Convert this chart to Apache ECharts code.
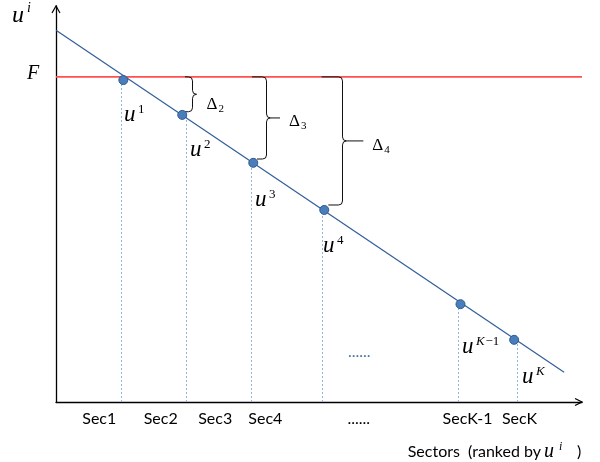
<!DOCTYPE html>
<html><head><meta charset="utf-8">
<script src="https://cdn.jsdelivr.net/npm/echarts@6/dist/echarts.min.js"></script>
<style>html,body{margin:0;padding:0;background:#fff}#c{width:600px;height:462px}</style>
</head><body><div id="c"></div>
<script>
// ---- data (abstract units: x = sector rank position 0..100, u = utility 0..100)
const sectorTickLabels = ['Sec1', 'Sec2', 'Sec3', 'Sec4', '......', 'SecK-1', 'SecK'];
const sectorTickX = [8.23, 19.91, 30.27, 39.79, 57.57, 78.25, 88.12];
const pointNames = ['1', '2', '3', '4', 'K\u22121', 'K'];
const pointX = [12.8, 24.0, 37.5, 51.0, 76.9, 87.1];
const pointU = [81.3, 72.5, 60.4, 48.5, 24.7, 15.7];
const dropX = [12.3, 24.7, 37.0, 50.5, 76.5, 87.7];
const trendX = [0, 96.6];
const trendU = [93.9, 7.5];
const F = 82.1;
const braceNames = ['2', '3', '4'];
const braceX = [25.80, 39.92, 54.31];
const braceBottomU = [73.3, 61.36, 49.75];
const braceTipX = [26.75, 42.59, 58.43];
const braceHookTopX = [24.52, 37.26, 50.51];
const braceHookBottomX = [24.52, 38.21, 51.77];
const deltaLabelX = [28.6, 44.3, 60.1];
const deltaLabelU = [73.7, 69.5, 63.4];
const uLabelX = [12.93, 25.48, 37.83, 50.76, 77.19, 88.59];
const uLabelU = [70.45, 61.62, 48.99, 37.37, 11.87, 4.29];
const ellipsisX = 55.5, ellipsisU = 10.98;

// ---- rendering
const SERIF = '"Liberation Serif","DejaVu Serif",serif';
const SANS = 'Lato,"Open Sans",sans-serif';
function mid(baseline, size, fam) { return baseline - size * (fam === SANS ? 0.387 : 0.3375); }
function T(x, baseline, text, size, fam, opts) {
  opts = opts || {};
  return { type: 'text', x: x, y: mid(baseline, size, fam), silent: true,
    style: { text: text, font: (opts.italic ? 'italic ' : '') + size + 'px ' + fam,
      fill: opts.color || '#000', align: opts.align || 'left', verticalAlign: 'middle' } };
}
function supText(x, baseline, s, size) {
  if (s.charAt(0) === 'K') {
    const out = [T(x, baseline, 'K', size, SERIF, { italic: true })];
    if (s.length > 1) out.push(T(x + 9.5, baseline, s.slice(1), size, SERIF));
    return out;
  }
  return [T(x, baseline, s, size, SERIF)];
}

const chart = echarts.init(document.getElementById('c'), null, { renderer: 'canvas' });
const axisCommon = {
  type: 'value', min: 0, max: 100,
  axisLine: { show: true, lineStyle: { color: '#000', width: 1.3 } },
  axisTick: { show: false }, axisLabel: { show: false }, splitLine: { show: false }
};
chart.setOption({
  animation: false,
  grid: { left: 56, right: 18, top: 6, bottom: 60, containLabel: false },
  xAxis: Object.assign({}, axisCommon),
  yAxis: Object.assign({}, axisCommon),
  graphic: [
    { type: 'text', x: 12, y: mid(24, 24, SERIF), style: { text: 'u', font: 'italic 24px ' + SERIF, fill: '#000', verticalAlign: 'middle' } },
    { type: 'text', x: 27, y: mid(13, 14, SERIF), style: { text: 'i', font: 'italic 14px ' + SERIF, fill: '#000', verticalAlign: 'middle' } },
    { type: 'text', x: 541, y: mid(458, 16, SANS), style: { text: 'Sectors  (ranked by', font: '16px ' + SANS, fill: '#000', align: 'right', verticalAlign: 'middle' } },
    { type: 'text', x: 544, y: mid(458, 20, SERIF), style: { text: 'u', font: 'italic 20px ' + SERIF, fill: '#000', verticalAlign: 'middle' } },
    { type: 'text', x: 559, y: mid(451, 12, SERIF), style: { text: 'i', font: 'italic 12px ' + SERIF, fill: '#000', verticalAlign: 'middle' } },
    { type: 'text', x: 577, y: mid(458, 16, SANS), style: { text: ')', font: '16px ' + SANS, fill: '#000', verticalAlign: 'middle' } }
  ],
  series: [
    { // dotted drop lines
      type: 'custom', silent: true, z: 1,
      data: dropX.map((x, i) => [x, pointU[i]]),
      renderItem: (p, api) => {
        const a = api.coord([api.value(0), 0]), b = api.coord([api.value(0), api.value(1)]);
        const px = Math.round(a[0]) + 0.5;
        return { type: 'line', shape: { x1: px, y1: a[1], x2: px, y2: b[1] },
          style: { stroke: '#8eb4e3', lineWidth: 1, lineDash: [2, 2] } };
      }
    },
    { // ranked utility line
      type: 'line', silent: true, z: 2, showSymbol: false,
      data: trendX.map((x, i) => [x, trendU[i]]),
      lineStyle: { color: '#2f5e9b', width: 1.2 }
    },
    { // F line
      type: 'line', silent: true, z: 2, showSymbol: false,
      data: [[0, F], [100, F]],
      lineStyle: { color: '#ff5050', width: 1.6 }
    },
    { // points
      type: 'scatter', silent: true, z: 5, symbolSize: 9,
      data: pointX.map((x, i) => [x, pointU[i]]),
      itemStyle: { color: '#4a7ebb', borderColor: '#2d5a8e', borderWidth: 1, opacity: 1 }
    },
    { // braces
      type: 'custom', silent: true, z: 3,
      encode: { x: 0, y: 1 },
      data: braceX.map((x, i) => [x, F, braceBottomU[i], braceTipX[i], braceHookTopX[i], braceHookBottomX[i]]),
      renderItem: (p, api) => {
        const xv = Math.round(api.coord([api.value(0), 0])[0]) + 0.5;
        const yt = api.coord([0, api.value(1)])[1], yb = api.coord([0, api.value(2)])[1];
        const xt = api.coord([api.value(3), 0])[0];
        const ht = api.coord([api.value(4), 0])[0], hb = api.coord([api.value(5), 0])[0];
        const ym = (yt + yb) / 2, r = Math.min(4, (yb - yt) / 4);
        const d = 'M' + ht + ' ' + yt + ' L' + (xv - r) + ' ' + yt + ' Q' + xv + ' ' + yt + ' ' + xv + ' ' + (yt + r) +
          ' L' + xv + ' ' + (ym - r) + ' Q' + xv + ' ' + ym + ' ' + (xv + r) + ' ' + ym + ' L' + xt + ' ' + ym +
          ' M' + (xv + r) + ' ' + ym + ' Q' + xv + ' ' + ym + ' ' + xv + ' ' + (ym + r) +
          ' L' + xv + ' ' + (yb - r) + ' Q' + xv + ' ' + yb + ' ' + (xv - r) + ' ' + yb + ' L' + hb + ' ' + yb;
        return { type: 'path', shape: { pathData: d }, style: { stroke: '#111', lineWidth: 1, fill: null } };
      }
    },
    { // delta labels
      type: 'custom', silent: true, z: 6,
      data: deltaLabelX.map((x, i) => [x, deltaLabelU[i]]),
      renderItem: (p, api) => {
        const c = api.coord([api.value(0), api.value(1)]);
        return { type: 'group', children: [
          T(c[0], c[1], '\u0394', 17, SERIF),
          T(c[0] + 12, c[1] + 3, braceNames[p.dataIndex], 11, SERIF)
        ] };
      }
    },
    { // u^k labels
      type: 'custom', silent: true, z: 6,
      data: uLabelX.map((x, i) => [x, uLabelU[i]]),
      renderItem: (p, api) => {
        const c = api.coord([api.value(0), api.value(1)]);
        return { type: 'group', children: [T(c[0], c[1], 'u', 23, SERIF, { italic: true })]
          .concat(supText(c[0] + 14, c[1] - 9, pointNames[p.dataIndex], 13)) };
      }
    },
    { // F label and in-plot ellipsis
      type: 'custom', silent: true, z: 6,
      data: [[0, F], [ellipsisX, ellipsisU]],
      renderItem: (p, api) => {
        const c = api.coord([api.value(0), api.value(1)]);
        if (p.dataIndex === 0) return T(c[0] - 16.7, c[1] + 3.3, 'F', 20, SERIF, { italic: true, align: 'right' });
        return T(c[0], c[1], '......', 16, SANS, { color: '#4a72a8' });
      }
    },
    { // sector tick labels
      type: 'custom', silent: true, z: 6,
      data: sectorTickX.map(x => [x, 0]),
      renderItem: (p, api) => {
        const c = api.coord([api.value(0), 0]);
        return T(c[0], c[1] + 23, sectorTickLabels[p.dataIndex], 16, SANS, { align: 'center' });
      }
    },
    { // axis arrowheads
      type: 'custom', silent: true, z: 6,
      data: [[100, 0], [0, 100]],
      renderItem: (p, api) => {
        const t = api.coord([api.value(0), api.value(1)]);
        const pts = p.dataIndex === 0
          ? [[t[0] - 7, t[1] - 3.5], [t[0], t[1]], [t[0] - 7, t[1] + 3.5]]
          : [[t[0] - 4, t[1] + 7], [t[0], t[1]], [t[0] + 4, t[1] + 7]];
        return { type: 'polyline', shape: { points: pts }, style: { stroke: '#000', lineWidth: 1.2, fill: null } };
      }
    }
  ]
});
</script>
</body></html>
